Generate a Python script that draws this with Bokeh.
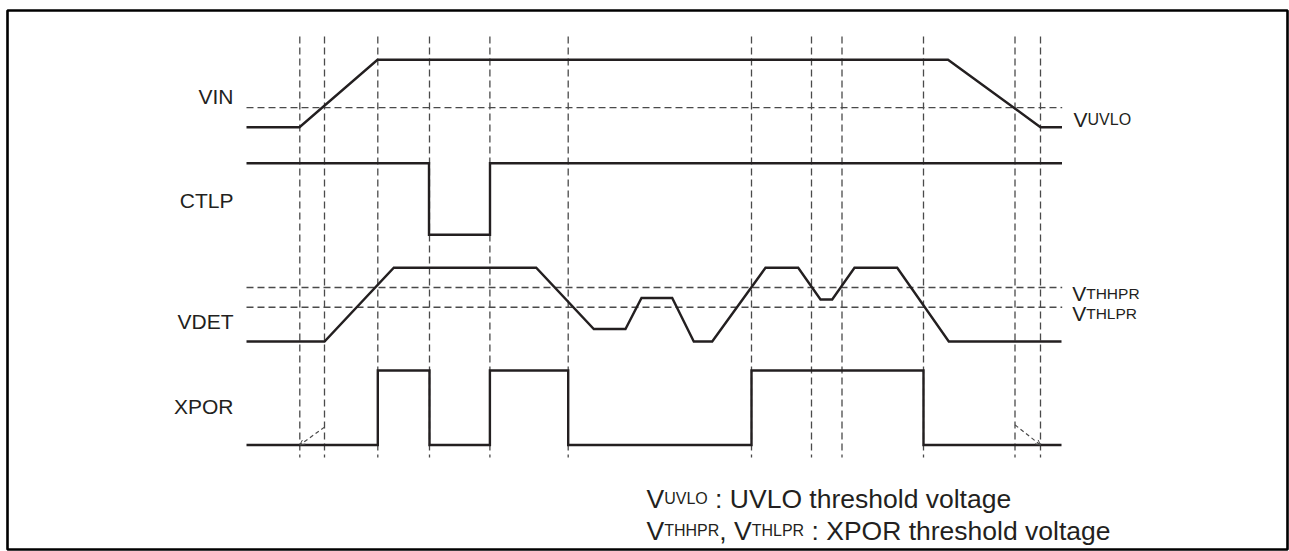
from bokeh.plotting import figure
from bokeh.models import Range1d, Arrow, OpenHead
from bokeh.core.properties import value
from bokeh.embed import file_html
from bokeh.resources import INLINE

# ---------------- data (time in arbitrary units, levels normalised 0..1) -------------
vin_t = [0, 53, 131, 701.5, 794, 815.5]
vin_v = [0, 0, 1, 1, 0, 0]

ctlp_t = [0, 182.5, 182.5, 243.5, 243.5, 815.5]
ctlp_v = [1, 1, 0, 0, 1, 1]

vdet_t = [0, 78, 147.3, 289.7, 347.3, 379, 395, 425.7, 447.3, 465.7, 519, 551.7, 574, 585.7, 608, 650.7, 702.3, 815]
vdet_v = [0, 0, 1, 1, 0.17, 0.17, 0.59, 0.59, 0, 0, 1, 1, 0.57, 0.57, 1, 1, 0, 0]

xpor_t = [0, 131.3, 131.3, 183, 183, 243.4, 243.4, 321.7, 321.7, 505, 505, 677, 677, 815]
xpor_v = [0, 0, 1, 1, 0, 0, 1, 1, 0, 0, 1, 1, 0, 0]

event_t = [53.3, 78, 131.3, 183, 243.4, 321.7, 505, 565, 595.5, 677, 768.5, 794]

uvlo_level = 0.29
thhpr_level = 0.733
thlpr_level = 0.465

# undefined XPOR state indications (start time, start level, end time, end level)
undef_t0 = [78, 768.5]
undef_v0 = [0.24, 0.27]
undef_t1 = [53.3, 794]
undef_v1 = [0, 0]

# ---------------- layout ----------------
ROW = {  # baseline (low) y, amplitude; y grows downward
    "VIN": (116.7, 67.4),
    "CTLP": (224.3, 71.6),
    "VDET": (331.0, 73.7),
    "XPOR": (434.5, 74.5),
}
INK = "#231f20"
DASH = "#4a4a4a"
FONT = "Liberation Sans"

W = {" ": 278, ",": 278, ":": 278, "V": 667, "U": 722, "L": 556, "O": 778, "T": 611,
     "H": 722, "P": 667, "R": 722, "X": 667, "t": 278, "h": 556, "r": 333, "e": 556,
     "s": 500, "o": 556, "l": 222, "d": 556, "v": 500, "a": 556, "g": 556, "I": 278,
     "N": 722, "C": 722, "D": 722, "E": 667}


def tw(s, size):
    return sum(W.get(c, 556) for c in s) / 1000.0 * size


def ymap(name, levels):
    base, amp = ROW[name]
    return [base - v * amp for v in levels]


p = figure(width=1289, height=551, output_backend="svg", toolbar_location=None,
           x_range=Range1d(-239, 1041), y_range=Range1d(539, 0),
           x_axis_type=None, y_axis_type=None,
           min_border_left=7, min_border_top=10, min_border_right=2, min_border_bottom=2)
p.grid.visible = False
p.background_fill_color = "white"
p.border_fill_color = "white"
p.outline_line_color = "#000000"
p.outline_line_width = 2.6

# vertical event markers
p.segment(x0=event_t, x1=event_t, y0=[26] * len(event_t), y1=[447] * len(event_t),
          line_color=DASH, line_width=1.3, line_dash="7 4")

# threshold lines
t_end = 815.7
thr_y = [ymap("VIN", [uvlo_level])[0], ymap("VDET", [thhpr_level])[0], ymap("VDET", [thlpr_level])[0]]
p.segment(x0=[0] * 3, x1=[t_end] * 3, y0=thr_y, y1=thr_y,
          line_color=DASH, line_width=1.3, line_dash="7 4")

# signals
for name, t, v in [("VIN", vin_t, vin_v), ("CTLP", ctlp_t, ctlp_v),
                   ("VDET", vdet_t, vdet_v), ("XPOR", xpor_t, xpor_v)]:
    p.line(t, ymap(name, v), line_color=INK, line_width=2.4, line_join="miter")

# undefined arrows
for t0, v0, t1, v1 in zip(undef_t0, undef_v0, undef_t1, undef_v1):
    p.add_layout(Arrow(end=OpenHead(size=5, line_width=1, line_color=DASH),
                       x_start=t0, y_start=ymap("XPOR", [v0])[0],
                       x_end=t1, y_end=ymap("XPOR", [v1])[0],
                       line_color=DASH, line_width=1.2, line_dash="4 3"))

# left labels (right aligned)
lab_x = -13
lab_base = {"VIN": 86, "CTLP": 190, "VDET": 310.7, "XPOR": 396}
p.text(x=[lab_x] * 4, y=[lab_base[k] for k in lab_base], text=list(lab_base.keys()),
       text_font=value(FONT), text_font_size="21px", text_color=INK,
       text_align="right", text_baseline="alphabetic")


def rich(x, y, parts):
    """parts: list of (string, size); pieces are laid out one after another"""
    for s, size in parts:
        lead = len(s) - len(s.lstrip(" "))
        x += tw(" " * lead, size)
        body = s.strip(" ")
        if body:
            p.text(x=[x], y=[y], text=[body], text_font=value(FONT),
                   text_font_size=f"{size}px", text_color=INK,
                   text_align="left", text_baseline="alphabetic")
        x += tw(s.lstrip(" "), size)


# right labels
rich(827, 109, [("V", 21), ("UVLO", 16)])
rich(825.7, 283.3, [("V", 21), ("THHPR", 15.5)])
rich(825.7, 303.3, [("V", 21), ("THLPR", 15.5)])

# legend text at bottom
rich(400, 488.3, [("V", 26.5), ("UVLO", 16), (" : UVLO threshold voltage", 26.5)])
rich(400, 520, [("V", 26.5), ("THHPR", 16), (", ", 26.5), ("V", 26.5), ("THLPR", 16),
                (" : XPOR threshold voltage", 26.5)])

open("out.html", "w").write(file_html(p, INLINE))
